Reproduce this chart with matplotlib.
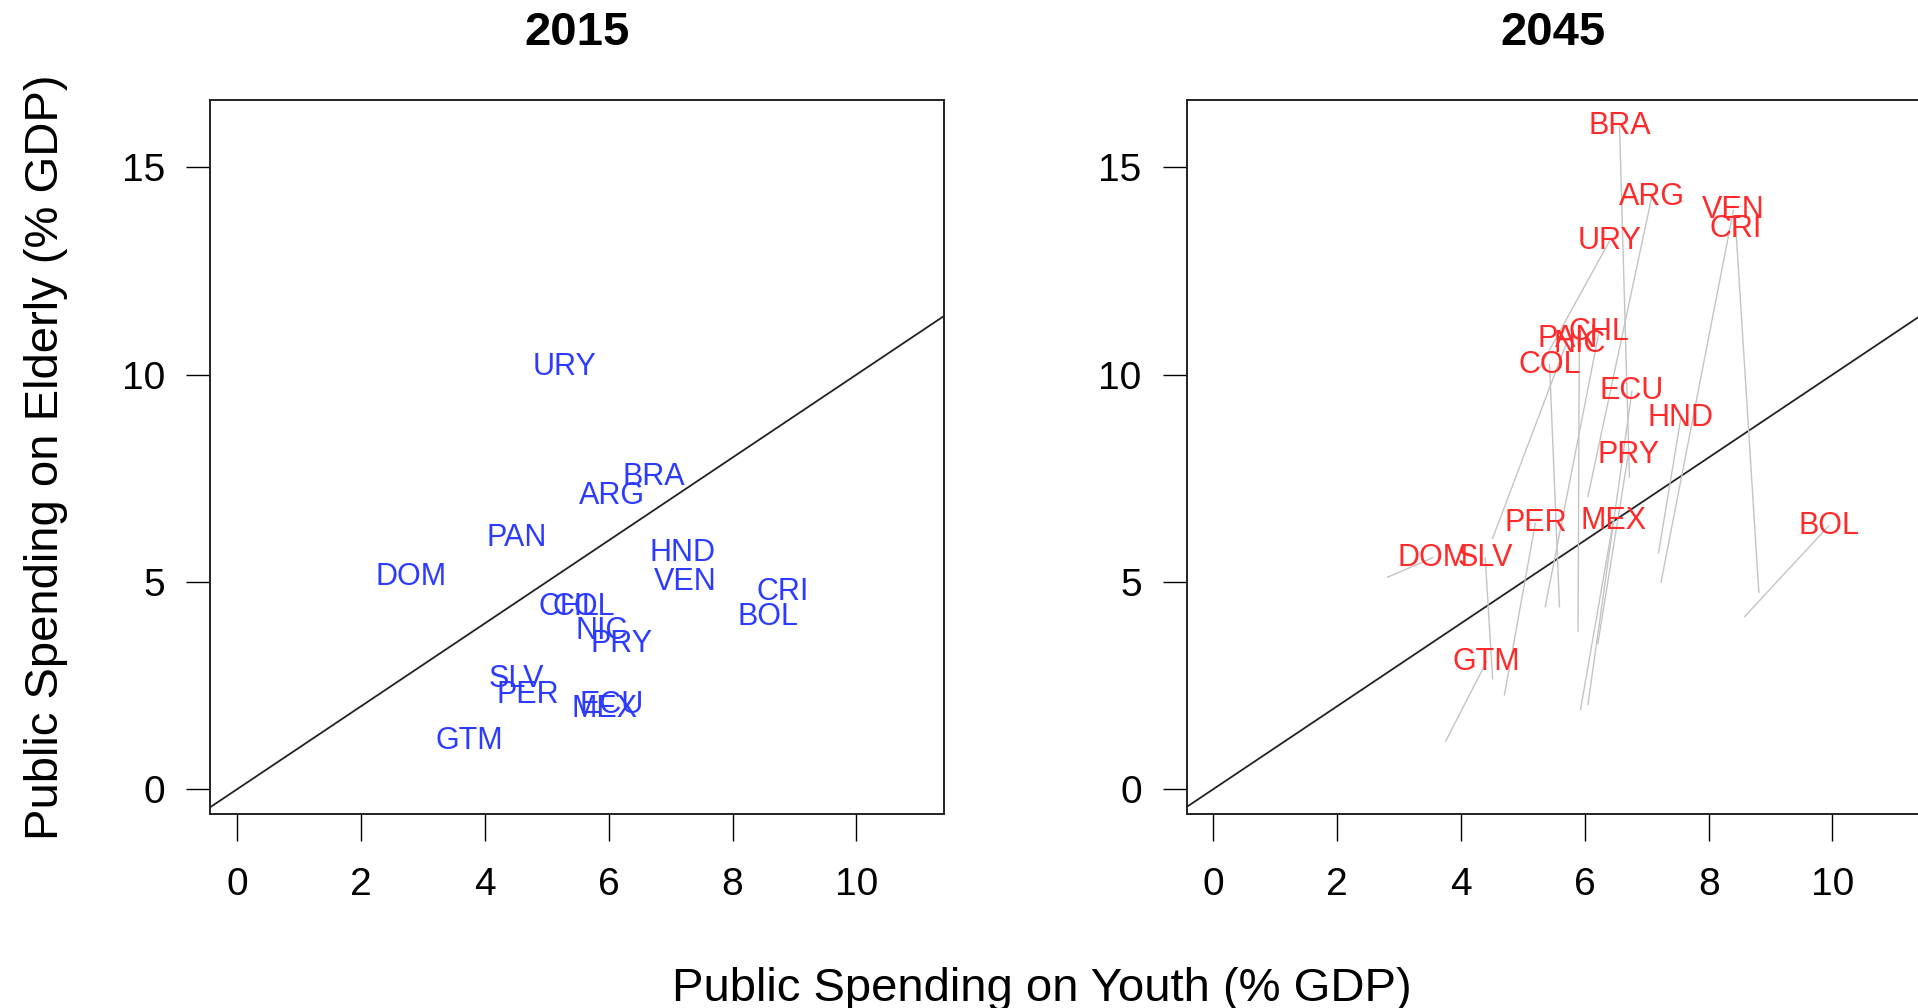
import numpy as np
import matplotlib
matplotlib.use("Agg")
import matplotlib.pyplot as plt

countries = ["ARG", "BOL", "BRA", "CHL", "COL", "CRI", "DOM", "ECU", "GTM",
             "HND", "MEX", "NIC", "PAN", "PER", "PRY", "SLV", "URY", "VEN"]

youth_2015 = [6.05, 8.58, 6.72, 5.36, 5.59, 8.81, 2.81, 6.05, 3.75,
              7.19, 5.93, 5.89, 4.51, 4.70, 6.21, 4.51, 5.28, 7.23]
elder_2015 = [7.06, 4.16, 7.53, 4.40, 4.40, 4.75, 5.11, 2.04, 1.15,
              5.70, 1.92, 3.81, 6.05, 2.27, 3.51, 2.66, 10.19, 4.99]

youth_2045 = [7.08, 9.94, 6.56, 6.23, 5.43, 8.44, 3.54, 6.76, 4.41,
              7.55, 6.46, 5.91, 5.73, 5.20, 6.70, 4.39, 6.40, 8.40]
elder_2045 = [14.29, 6.35, 16.00, 11.04, 10.24, 13.52, 5.58, 9.60, 3.07,
              8.95, 6.47, 10.75, 10.87, 6.41, 8.06, 5.58, 13.23, 13.97]

xticks = [0, 2, 4, 6, 8, 10]
yticks = [0, 5, 10, 15]

plt.rcParams["font.family"] = ["Liberation Sans", "DejaVu Sans"]

W, H = 1918, 1008
fig = plt.figure(figsize=(W / 100, H / 100), dpi=100)

def px_axes(left, top, right, bottom):
    return fig.add_axes([left / W, 1 - bottom / H, (right - left) / W, (bottom - top) / H])

ax1 = px_axes(210.4, 100.3, 944.3, 813.5)
ax2 = px_axes(1186.5, 100.3, 1920.4, 813.5)

for ax, title in [(ax1, "2015"), (ax2, "2045")]:
    ax.set_xlim(-0.435, 11.42)
    ax.set_ylim(-0.59, 16.62)
    ax.set_xticks(xticks)
    ax.set_yticks(yticks)
    ax.tick_params(axis="x", length=19.4, width=1.0, pad=19, labelsize=28)
    ax.tick_params(axis="y", length=17.3, width=1.0, pad=15, labelsize=28)
    for s in ax.spines.values():
        s.set_linewidth(1.4)
        s.set_color("#222222")
    ax.axline((0, 0), slope=1, color="#222222", lw=1.3)
    ax.set_title(title, fontsize=34, fontweight="bold", pad=40)

for c, x, y in zip(countries, youth_2015, elder_2015):
    ax1.text(x, y, c, color="#2B3BFF", fontsize=22, ha="center", va="center")

for x0, y0, x1, y1 in zip(youth_2015, elder_2015, youth_2045, elder_2045):
    ax2.plot([x0, x1], [y0, y1], color="#C4C4C4", lw=1.0)
for c, x, y in zip(countries, youth_2045, elder_2045):
    ax2.text(x, y, c, color="#FF2A2A", fontsize=22, ha="center", va="center")

fig.text(24 / W, 1 - 457 / H, "Public Spending on Elderly (% GDP)", rotation=90,
         fontsize=34, ha="left", va="center")
fig.text(1041.5 / W, 1 - 1001 / H, "Public Spending on Youth (% GDP)",
         fontsize=34, ha="center", va="baseline")

fig.savefig("out.png", dpi=100)
